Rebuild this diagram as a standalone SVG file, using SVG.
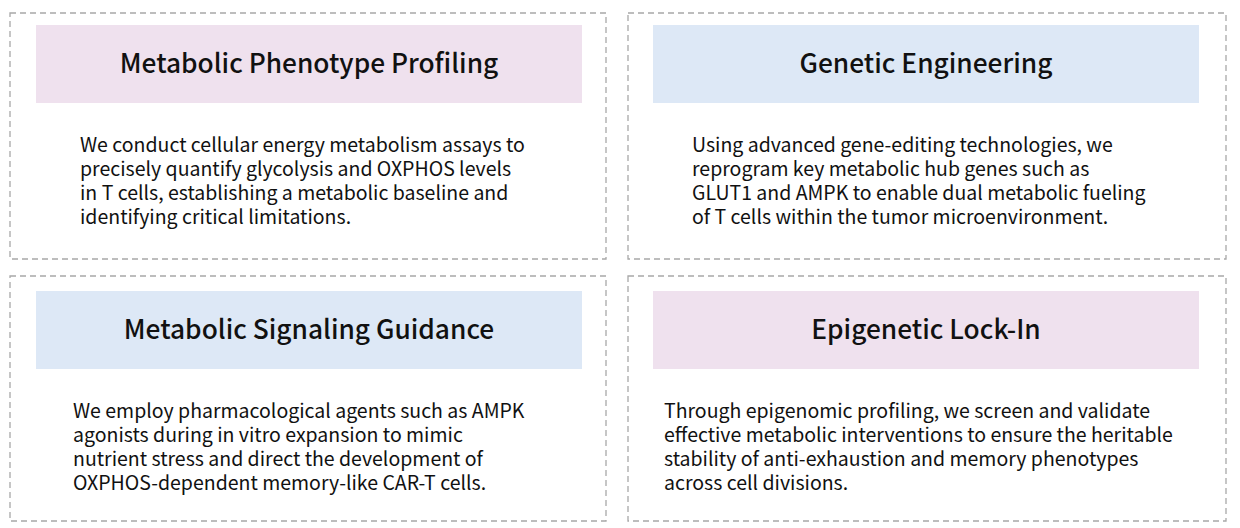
<svg xmlns="http://www.w3.org/2000/svg" width="1240" height="528" viewBox="0 0 1240 528">
<style>
.panel{fill:#fff;stroke:#a8a8a8;stroke-width:1.3;stroke-dasharray:6 4}
.pink{fill:#efe1ee}.blue{fill:#dde8f6}
.t{font-family:"Noto Sans CJK SC","Noto Sans",sans-serif;font-size:26.3px;font-weight:500;fill:#111;text-anchor:middle}
.b{font-family:"Noto Sans CJK SC","Noto Sans",sans-serif;font-size:19.5px;fill:#111}
</style>
<rect width="1240" height="528" fill="#fff"/>
<g id="node1"><rect class="panel" x="10" y="13" width="596" height="246"/><rect class="pink" x="36" y="25" width="546" height="78"/><text class="t" x="309" y="73">Metabolic Phenotype Profiling</text>
<text class="b" x="80" y="152">We conduct cellular energy metabolism assays to</text><text class="b" x="80" y="176">precisely quantify glycolysis and OXPHOS levels</text><text class="b" x="80" y="200">in T cells, establishing a metabolic baseline and</text><text class="b" x="80" y="224">identifying critical limitations.</text></g>
<g id="node2"><rect class="panel" x="628" y="13" width="598" height="246"/><rect class="blue" x="653" y="25" width="546" height="78"/><text class="t" x="926" y="73">Genetic Engineering</text>
<text class="b" x="692" y="152">Using advanced gene-editing technologies, we</text><text class="b" x="692" y="176">reprogram key metabolic hub genes such as</text><text class="b" x="692" y="200">GLUT1 and AMPK to enable dual metabolic fueling</text><text class="b" x="692" y="224">of T cells within the tumor microenvironment.</text></g>
<g id="node3"><rect class="panel" x="10" y="276" width="596" height="245"/><rect class="blue" x="36" y="291" width="546" height="78"/><text class="t" x="309" y="339">Metabolic Signaling Guidance</text>
<text class="b" x="73" y="418">We employ pharmacological agents such as AMPK</text><text class="b" x="73" y="442">agonists during in vitro expansion to mimic</text><text class="b" x="73" y="466">nutrient stress and direct the development of</text><text class="b" x="73" y="490">OXPHOS-dependent memory-like CAR-T cells.</text></g>
<g id="node4"><rect class="panel" x="628" y="276" width="598" height="245"/><rect class="pink" x="653" y="291" width="546" height="78"/><text class="t" x="926" y="339">Epigenetic Lock-In</text>
<text class="b" x="664" y="418">Through epigenomic profiling, we screen and validate</text><text class="b" x="664" y="442">effective metabolic interventions to ensure the heritable</text><text class="b" x="664" y="466">stability of anti-exhaustion and memory phenotypes</text><text class="b" x="664" y="490">across cell divisions.</text></g>
<g id="connectors"/>
</svg>
